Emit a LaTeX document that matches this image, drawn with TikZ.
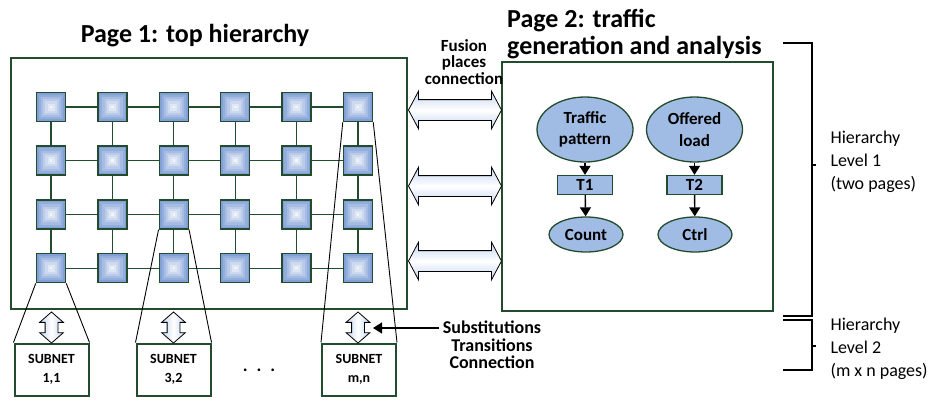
\documentclass[tikz,border=0pt]{standalone}
\usepackage{fontspec}
\setmainfont{Carlito}
\usepackage{tikz}
\usetikzlibrary{shapes.geometric,shapes.arrows,arrows.meta,calc}
\definecolor{pgreen}{RGB}{35,75,45}
\definecolor{sqblue}{RGB}{128,160,214}
\definecolor{elblue}{RGB}{160,188,228}
\definecolor{arrblue}{RGB}{196,214,240}

\tikzset{
    pagebox/.style={draw=pgreen, line width=2.2pt, fill=white, inner sep=0pt},
    cell/.style={draw=pgreen, line width=1.5pt, minimum size=29pt, inner sep=0pt, fill=sqblue,
        path picture={
            \foreach \k [evaluate=\k as \pc using int(100-15*\k)] in {1,...,6}{
                \fill[sqblue!\pc!white]
                    ($(path picture bounding box.center)+({-14.5+2.2*\k},{-14.5+2.2*\k})$) rectangle
                    ($(path picture bounding box.center)+({14.5-2.2*\k},{14.5-2.2*\k})$);
            }
        }},
    gridline/.style={draw=pgreen, line width=1.2pt},
    zoomline/.style={draw=black, line width=0.9pt},
    subbox/.style={draw=pgreen, line width=2pt, fill=white, minimum width=74pt,
        minimum height=52pt, align=center, font=\bfseries\fontsize{14}{19}\selectfont},
    ovalplace/.style={ellipse, draw=pgreen, line width=1.3pt, fill=elblue, inner sep=0pt,
        align=center, font=\bfseries\fontsize{17}{21.5}\selectfont},
    trans/.style={draw=pgreen, line width=1.3pt, fill=elblue, minimum width=55pt,
        minimum height=19pt, inner sep=0pt, font=\bfseries\fontsize{17}{18}\selectfont},
    flow/.style={draw=black, line width=1.4pt, -{Triangle[length=9pt,width=11pt]}},
    hfuse/.style={double arrow, draw=black, line width=0.8pt,
        top color=arrblue, bottom color=arrblue, middle color=white,
        minimum height=93pt, inner sep=10pt, double arrow head extend=8.5pt,
        double arrow tip angle=124},
    vfuse/.style={double arrow, draw=black, line width=0.8pt,
        left color=arrblue, right color=arrblue, middle color=white,
        shape border rotate=90, minimum height=31pt, inner sep=6pt,
        double arrow head extend=5.5pt, double arrow tip angle=98},
    bracket/.style={draw=black, line width=2pt}
}

\begin{document}
\begin{tikzpicture}[x=1pt, y=-1pt]
    \useasboundingbox (0,0) rectangle (928,402);

    % The two pages
    \node[pagebox, minimum width=396pt, minimum height=251pt] (page1) at (209,183.5) {};
    \node[pagebox, minimum width=271pt, minimum height=249pt] (page2) at (637.5,186.5) {};

    \node[font=\bfseries\fontsize{26}{27}\selectfont] (title1) at (195,36) {Page 1: top hierarchy};
    \node[font=\bfseries\fontsize{26}{27}\selectfont, align=left, anchor=north west, inner sep=0pt]
        (title2) at (507,9) {Page 2: traffic\\generation and analysis};

    % Grid of subnet transitions on page 1
    \foreach \c in {1,...,6}{
        \foreach \r in {1,...,4}{
            \node[cell] (s\c\r) at ({51+61.4*(\c-1)},{107+53.7*(\r-1)}) {};
        }
    }
    \foreach \c [evaluate=\c as \cn using int(\c+1)] in {1,...,5}{
        \foreach \r in {1,...,4}{
            \draw[gridline] (s\c\r) -- (s\cn\r);
        }
    }
    \foreach \c in {1,...,6}{
        \foreach \r [evaluate=\r as \rn using int(\r+1)] in {1,2,3}{
            \draw[gridline] (s\c\r) -- (s\c\rn);
        }
    }

    % Subnet pages
    \node[subbox] (sub11) at (51.5,369.5) {SUBNET\\1,1};
    \node[subbox] (sub32) at (173.5,369.5) {SUBNET\\3,2};
    \node[subbox] (submn) at (359,369.5) {SUBNET\\m,n};
    \node[font=\bfseries\fontsize{18}{18}\selectfont] (dots) at (259,370) {.\hspace{9pt}.\hspace{9pt}.};

    \draw[zoomline] (s14.south west) -- (sub11.north west) (s14.south east) -- (sub11.north east);
    \draw[zoomline] (s33.south west) -- (sub32.north west) (s33.south east) -- (sub32.north east);
    \draw[zoomline] (s61.south west) -- (submn.north west) (s61.south east) -- (submn.north east);

    \node[vfuse] (v11) at (51.5,327.5) {};
    \node[vfuse] (v32) at (173.5,327.5) {};
    \node[vfuse] (vmn) at (358,327.5) {};

    % Fusion places between the pages
    \foreach \y [count=\i] in {110,186,261}{
        \node[hfuse] (f\i) at (455,\y) {};
    }
    \node[font=\bfseries\fontsize{17}{16.7}\selectfont, align=center] (fusion) at (464,62)
        {Fusion\\places\\connection};

    % Page 2 net
    \node[ovalplace, minimum width=96pt, minimum height=65pt] (traffic) at (585,129.5) {Traffic\\pattern};
    \node[ovalplace, minimum width=96pt, minimum height=65pt] (offered) at (694.5,129.5) {Offered\\load};
    \node[trans] (t1) at (585,185) {T1};
    \node[trans] (t2) at (694.5,185) {T2};
    \node[ovalplace, minimum width=74pt, minimum height=35pt] (count) at (586,234.5) {Count};
    \node[ovalplace, minimum width=74pt, minimum height=35pt] (ctrl) at (695,234.5) {Ctrl};
    \draw[flow] (traffic) -- (t1);
    \draw[flow] (t1) -- (count);
    \draw[flow] (offered) -- (t2);
    \draw[flow] (t2) -- (ctrl);

    % Substitution label
    \node[font=\bfseries\fontsize{18}{17.5}\selectfont, align=center] (subst) at (492,345)
        {Substitutions\\Transitions\\Connection};
    \coordinate (subtip) at (373,328);
    \draw[flow] (subtip -| subst.west) -- (subtip);

    % Hierarchy levels
    \draw[bracket] (783,43) -- (812,43) -- (812,316) -- (783,316);
    \draw[bracket] (812,165) -- (816,165);
    \draw[bracket] (783,320) -- (812,320) -- (812,370) -- (783,370);
    \draw[bracket] (812,346) -- (816,346);
    \node[font=\fontsize{18}{23}\selectfont, align=left, anchor=west] (lvl1) at (827,162)
        {Hierarchy\\Level 1\\(two pages)};
    \node[font=\fontsize{18}{23}\selectfont, align=left, anchor=west] (lvl2) at (827,349)
        {Hierarchy\\Level 2\\(m x n pages)};

\end{tikzpicture}
\end{document}
